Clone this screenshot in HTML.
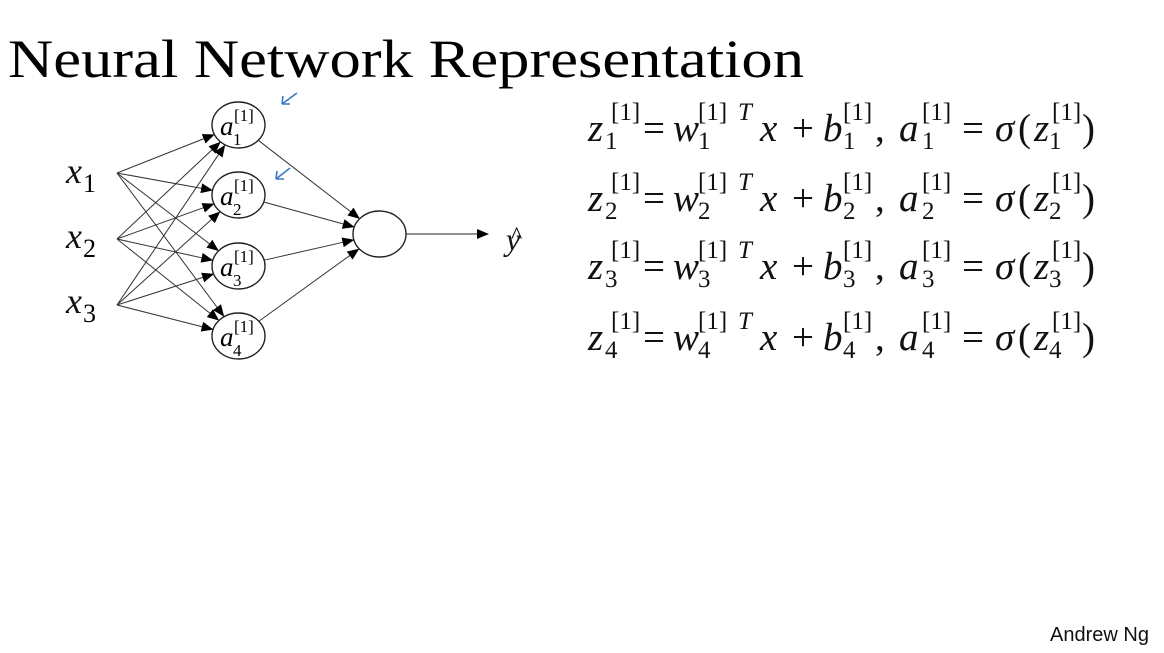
<!DOCTYPE html>
<html><head><meta charset="utf-8"><style>
html,body{margin:0;padding:0;background:#fff;}
svg{display:block}
.m{font-family:"Liberation Serif",serif;font-style:italic;font-size:39px;fill:#111}
.u{font-family:"Liberation Serif",serif;font-size:39px;fill:#111}
.s{font-family:"Liberation Serif",serif;font-size:25px;fill:#111}
.si{font-family:"Liberation Serif",serif;font-size:25px;font-style:italic;fill:#111}
</style></head><body>
<svg id="g" width="1164" height="653" viewBox="0 0 1164 653" xmlns="http://www.w3.org/2000/svg">
<defs><marker id="ah" markerWidth="12" markerHeight="10" refX="11" refY="5" orient="auto" markerUnits="userSpaceOnUse"><path d="M0,0 L12,5 L0,10 z" fill="#000"/></marker></defs>
<text x="8" y="77" style="font-family:'Liberation Serif',serif;font-size:54px" textLength="796" lengthAdjust="spacingAndGlyphs">Neural Network Representation</text>
<g id="net" stroke="#333" stroke-width="1" fill="none"></g>
<g fill="#fff" stroke="#222" stroke-width="1.4">
<ellipse cx="238.5" cy="125" rx="26.5" ry="23"/>
<ellipse cx="238.5" cy="195" rx="26.5" ry="23"/>
<ellipse cx="238.5" cy="266" rx="26.5" ry="23"/>
<ellipse cx="238.5" cy="336" rx="26.5" ry="23"/>
<ellipse cx="379.5" cy="234" rx="26.5" ry="23"/>
</g>
<line x1="406" y1="234" x2="488" y2="234" stroke="#222" stroke-width="1" marker-end="url(#ah)"/>
<g style="font-family:'Liberation Serif',serif;font-style:italic;font-size:27px">
<text x="220" y="135">a</text><text x="220" y="205">a</text><text x="220" y="276">a</text><text x="220" y="346">a</text>
</g>
<g style="font-family:'Liberation Serif',serif;font-size:17px">
<text x="234" y="121">[1]</text><text x="233" y="145">1</text>
<text x="234" y="191">[1]</text><text x="233" y="215">2</text>
<text x="234" y="262">[1]</text><text x="233" y="286">3</text>
<text x="234" y="332">[1]</text><text x="233" y="356">4</text>
</g>
<g class="m"><text x="66" y="183" style="font-size:36px">x</text><text x="66" y="248" style="font-size:36px">x</text><text x="66" y="313" style="font-size:36px">x</text>
<text x="506" y="250" style="font-size:32px">y</text></g>
<text x="511" y="243" style="font-family:'Liberation Serif',serif;font-size:24px">^</text>
<g style="font-family:'Liberation Serif',serif;font-size:26px"><text x="83" y="192">1</text><text x="83" y="257">2</text><text x="83" y="322">3</text></g>
<g stroke="#3a78c8" stroke-width="1.6" fill="none">
<path d="M297,93 L282,104 M282,104 L283,96 M282,104 L290,104"/>
<path d="M290,168 L276,179 M276,179 L277,171 M276,179 L284,179"/>
</g>
<g id="eq"></g>
<text x="1050" y="641" style="font-family:'Liberation Sans',sans-serif;font-size:20px;fill:#111">Andrew Ng</text>
</svg>
<script>
var NS="http://www.w3.org/2000/svg";
var net=document.getElementById("net");
function ln(x1,y1,x2,y2){var l=document.createElementNS(NS,"line");l.setAttribute("x1",x1);l.setAttribute("y1",y1);l.setAttribute("x2",x2);l.setAttribute("y2",y2);l.setAttribute("marker-end","url(#ah)");net.appendChild(l);}
function edge(x0,y0,cx,cy,rx,ry){var dx=cx-x0,dy=cy-y0;var t=1/Math.sqrt((dx*dx)/(rx*rx)+(dy*dy)/(ry*ry));ln(x0,y0,cx-dx*t,cy-dy*t);}
var hs=[125,195,266,336],xs=[173,239,305];
xs.forEach(function(y){hs.forEach(function(h){edge(117,y,238.5,h,27,24);});});
hs.forEach(function(h){var dx=379.5-238.5,dy=234-h;var t=1/Math.sqrt(dx*dx/(26.5*26.5)+dy*dy/(23*23));var sx=238.5+dx*t,sy=h+dy*t;edge(sx,sy,379.5,234,27,24);});
var eq=document.getElementById("eq");
function T(x,y,txt,c){var t=document.createElementNS(NS,"text");t.setAttribute("x",x);t.setAttribute("y",y);t.setAttribute("class",c);t.textContent=txt;eq.appendChild(t);}
[141,211,279,350].forEach(function(b,i){var n=String(i+1);
T(588,b,"z","m");T(611,b-21,"[1]","s");T(605,b+8,n,"s");
T(643,b,"=","u");
T(673,b,"w","m");T(698,b-21,"[1]","s");T(738,b-21,"T","si");T(698,b+8,n,"s");
T(760,b,"x","m");T(792,b,"+","u");
T(823,b,"b","m");T(843,b-21,"[1]","s");T(843,b+8,n,"s");T(875,b,",","u");
T(899,b,"a","m");T(922,b-21,"[1]","s");T(922,b+8,n,"s");
T(962,b,"=","u");T(995,b,"σ","m");T(1018,b,"(","u");
T(1034,b,"z","m");T(1052,b-21,"[1]","s");T(1049,b+8,n,"s");T(1082,b,")","u");
});
</script>
</body></html>
